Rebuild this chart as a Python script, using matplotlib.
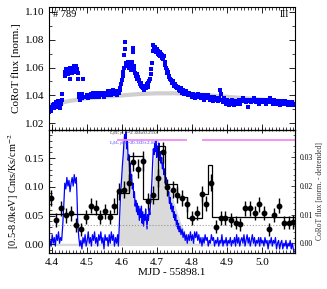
import numpy as np
import matplotlib
matplotlib.use("Agg")
import matplotlib.pyplot as plt
from matplotlib.ticker import MultipleLocator

plt.rcParams['font.family'] = ['Liberation Serif', 'DejaVu Serif']
plt.rcParams['mathtext.fontset'] = 'stix'

# CoRoT light curve (top panel), MJD - 55898.1 and normalised flux
corot = [
    (4.393, 1.028), (4.395, 1.030), (4.397, 1.031), (4.399, 1.029), (4.401, 1.032), (4.403, 1.033),
    (4.405, 1.031), (4.407, 1.034), (4.409, 1.033), (4.411, 1.035), (4.413, 1.032), (4.415, 1.034),
    (4.417, 1.036), (4.419, 1.033), (4.421, 1.035), (4.423, 1.031), (4.425, 1.034), (4.428, 1.037),
    (4.430, 1.041),
    (4.437, 1.054), (4.439, 1.057), (4.441, 1.059), (4.443, 1.056), (4.445, 1.058), (4.447, 1.055),
    (4.449, 1.057), (4.451, 1.060), (4.453, 1.052), (4.455, 1.058), (4.458, 1.056), (4.460, 1.059),
    (4.462, 1.061), (4.464, 1.060), (4.466, 1.058), (4.468, 1.061), (4.470, 1.057), (4.472, 1.059),
    (4.474, 1.052), (4.476, 1.056), (4.490, 1.052),
    (4.477, 1.039), (4.479, 1.041), (4.481, 1.037), (4.483, 1.040), (4.485, 1.038), (4.487, 1.041),
    (4.497, 1.039), (4.500, 1.040), (4.503, 1.038), (4.506, 1.039), (4.509, 1.040), (4.512, 1.041),
    (4.515, 1.039), (4.518, 1.042), (4.520, 1.040), (4.523, 1.041), (4.525, 1.039), (4.528, 1.042),
    (4.530, 1.040), (4.533, 1.041), (4.535, 1.039), (4.538, 1.040), (4.540, 1.042), (4.543, 1.040),
    (4.545, 1.041), (4.548, 1.039), (4.550, 1.040), (4.553, 1.042), (4.555, 1.041), (4.558, 1.040),
    (4.560, 1.043), (4.563, 1.041), (4.565, 1.042), (4.568, 1.040), (4.570, 1.043), (4.573, 1.042),
    (4.575, 1.044), (4.578, 1.041), (4.580, 1.043), (4.583, 1.042), (4.586, 1.040), (4.589, 1.043),
    (4.592, 1.042), (4.594, 1.044),
    (4.596, 1.045), (4.598, 1.048), (4.600, 1.051), (4.602, 1.054), (4.604, 1.057), (4.606, 1.060),
    (4.607, 1.069), (4.608, 1.073), (4.609, 1.078),
    (4.611, 1.062), (4.613, 1.063), (4.615, 1.061), (4.617, 1.064), (4.619, 1.062), (4.621, 1.060),
    (4.623, 1.063), (4.625, 1.058), (4.627, 1.061), (4.629, 1.064),
    (4.631, 1.071), (4.632, 1.073), (4.633, 1.074),
    (4.634, 1.061), (4.636, 1.058), (4.638, 1.056), (4.640, 1.054), (4.642, 1.055), (4.644, 1.052),
    (4.646, 1.053), (4.648, 1.050), (4.650, 1.051), (4.652, 1.048), (4.654, 1.049), (4.656, 1.047),
    (4.658, 1.046), (4.660, 1.045), (4.662, 1.047), (4.664, 1.044), (4.666, 1.046), (4.668, 1.045),
    (4.670, 1.047), (4.672, 1.048), (4.674, 1.046), (4.676, 1.049), (4.678, 1.050), (4.680, 1.052),
    (4.682, 1.055), (4.684, 1.059), (4.686, 1.063),
    (4.688, 1.072), (4.690, 1.076), (4.692, 1.074), (4.694, 1.072), (4.696, 1.075), (4.698, 1.071),
    (4.700, 1.073), (4.702, 1.070), (4.704, 1.072), (4.706, 1.069), (4.708, 1.071), (4.710, 1.068),
    (4.712, 1.070), (4.714, 1.067), (4.716, 1.069), (4.718, 1.066), (4.720, 1.068), (4.722, 1.064),
    (4.724, 1.062), (4.726, 1.060), (4.728, 1.058), (4.730, 1.056), (4.732, 1.057), (4.734, 1.054),
    (4.736, 1.053), (4.738, 1.052), (4.740, 1.051), (4.742, 1.050), (4.744, 1.049), (4.746, 1.050),
    (4.748, 1.048), (4.750, 1.047), (4.752, 1.048), (4.754, 1.046), (4.756, 1.047), (4.758, 1.045),
    (4.760, 1.046), (4.762, 1.044), (4.764, 1.045), (4.766, 1.043), (4.768, 1.045), (4.770, 1.044),
    (4.772, 1.042), (4.774, 1.043), (4.776, 1.044), (4.778, 1.041), (4.780, 1.042), (4.783, 1.043),
    (4.786, 1.041), (4.789, 1.040), (4.792, 1.042), (4.795, 1.040), (4.798, 1.041), (4.801, 1.039),
    (4.804, 1.041), (4.807, 1.040), (4.810, 1.038), (4.813, 1.040), (4.816, 1.039), (4.819, 1.041),
    (4.822, 1.039), (4.825, 1.038), (4.828, 1.040), (4.831, 1.039), (4.834, 1.037), (4.837, 1.040),
    (4.840, 1.039), (4.843, 1.038), (4.846, 1.040), (4.849, 1.039), (4.852, 1.037), (4.855, 1.039),
    (4.858, 1.038), (4.861, 1.036), (4.864, 1.039), (4.867, 1.038), (4.870, 1.037),
    (4.875, 1.036), (4.878, 1.038), (4.880, 1.044), (4.882, 1.041), (4.885, 1.037), (4.888, 1.035),
    (4.891, 1.038), (4.894, 1.036), (4.897, 1.034), (4.900, 1.037), (4.903, 1.035), (4.906, 1.033),
    (4.909, 1.036), (4.912, 1.034), (4.915, 1.037), (4.918, 1.035), (4.921, 1.033), (4.924, 1.036),
    (4.927, 1.034), (4.930, 1.036), (4.933, 1.035), (4.936, 1.037), (4.939, 1.034),
    (4.942, 1.036), (4.945, 1.038), (4.948, 1.036), (4.951, 1.037), (4.954, 1.035), (4.957, 1.037),
    (4.960, 1.032), (4.963, 1.036), (4.966, 1.037), (4.969, 1.035), (4.972, 1.037), (4.975, 1.036),
    (4.978, 1.038), (4.981, 1.036), (4.984, 1.035), (4.987, 1.037), (4.990, 1.036), (4.993, 1.034),
    (4.996, 1.037), (4.999, 1.036), (5.002, 1.035), (5.005, 1.037), (5.008, 1.036), (5.011, 1.034),
    (5.014, 1.037), (5.017, 1.035), (5.020, 1.036), (5.023, 1.038), (5.026, 1.035), (5.029, 1.036),
    (5.032, 1.034), (5.035, 1.037), (5.038, 1.035), (5.041, 1.036), (5.044, 1.034), (5.047, 1.036),
    (5.050, 1.035), (5.053, 1.033), (5.056, 1.036), (5.059, 1.035), (5.062, 1.034), (5.065, 1.036),
    (5.068, 1.034), (5.071, 1.035), (5.074, 1.033), (5.077, 1.035), (5.080, 1.034), (5.083, 1.033),
    (5.086, 1.035), (5.089, 1.034), (5.092, 1.033),
]

# slow trend (grey line)
trend_t = [4.392, 4.45, 4.50, 4.55, 4.60, 4.65, 4.70, 4.75, 4.80, 4.85, 4.90, 4.95, 5.00, 5.05, 5.095]
trend_f = [1.033, 1.036, 1.038, 1.039, 1.040, 1.041, 1.0415, 1.0415, 1.041, 1.040, 1.039, 1.038, 1.037, 1.036, 1.035]

# detrended CoRoT flux (blue line, right axis)
detr = [
    (4.392, -0.003), (4.395, 0.001), (4.398, -0.001), (4.401, 0.003), (4.404, 0.000), (4.407, 0.002),
    (4.410, -0.001), (4.413, 0.003), (4.416, 0.001), (4.419, 0.004), (4.422, 0.000), (4.425, 0.002),
    (4.428, 0.001), (4.431, 0.006), (4.434, 0.013), (4.437, 0.021), (4.440, 0.019), (4.443, 0.023),
    (4.446, 0.020), (4.449, 0.022), (4.452, 0.018), (4.455, 0.021), (4.458, 0.023), (4.461, 0.020),
    (4.464, 0.024), (4.467, 0.021), (4.470, 0.023), (4.472, 0.016), (4.474, 0.007), (4.477, 0.002),
    (4.480, -0.001), (4.483, 0.001), (4.486, -0.002), (4.489, 0.002), (4.492, 0.000), (4.495, 0.003),
    (4.498, -0.001), (4.501, 0.001), (4.504, 0.004), (4.507, 0.000), (4.510, 0.002), (4.513, -0.001),
    (4.516, 0.003), (4.519, 0.001), (4.522, 0.004), (4.525, 0.000), (4.528, 0.002), (4.531, -0.001),
    (4.534, 0.003), (4.537, 0.001), (4.540, 0.004), (4.543, 0.000), (4.546, 0.002), (4.549, -0.002),
    (4.552, 0.003), (4.555, 0.001), (4.558, 0.002), (4.561, -0.001), (4.564, 0.003), (4.567, 0.000),
    (4.570, 0.004), (4.573, 0.001), (4.576, 0.003), (4.579, -0.001), (4.582, 0.002), (4.585, 0.000),
    (4.588, 0.003), (4.590, -0.001), (4.592, 0.004), (4.594, 0.010), (4.596, 0.016), (4.598, 0.020),
    (4.600, 0.024), (4.602, 0.028), (4.604, 0.031), (4.606, 0.035), (4.608, 0.038), (4.610, 0.036),
    (4.612, 0.039), (4.614, 0.033), (4.616, 0.036), (4.618, 0.029), (4.620, 0.031), (4.622, 0.025),
    (4.624, 0.028), (4.626, 0.022), (4.628, 0.024), (4.630, 0.019), (4.632, 0.021), (4.634, 0.016),
    (4.636, 0.018), (4.638, 0.013), (4.640, 0.015), (4.642, 0.011), (4.644, 0.014), (4.646, 0.010),
    (4.648, 0.013), (4.650, 0.008), (4.652, 0.012), (4.654, 0.009), (4.656, 0.013), (4.658, 0.007),
    (4.660, 0.011), (4.662, 0.006), (4.664, 0.010), (4.666, 0.008), (4.668, 0.012), (4.670, 0.009),
    (4.672, 0.005), (4.674, 0.010), (4.676, 0.008), (4.678, 0.012), (4.680, 0.010), (4.682, 0.014),
    (4.684, 0.017), (4.686, 0.022), (4.688, 0.028), (4.690, 0.033), (4.692, 0.031), (4.694, 0.035),
    (4.696, 0.032), (4.698, 0.036), (4.700, 0.030), (4.702, 0.034), (4.704, 0.031), (4.706, 0.035),
    (4.708, 0.029), (4.710, 0.032), (4.712, 0.028), (4.714, 0.030), (4.716, 0.026), (4.718, 0.028),
    (4.720, 0.024), (4.722, 0.026), (4.724, 0.021), (4.726, 0.023), (4.728, 0.019), (4.730, 0.021),
    (4.732, 0.017), (4.734, 0.018), (4.736, 0.014), (4.738, 0.016), (4.740, 0.012), (4.742, 0.014),
    (4.744, 0.011), (4.746, 0.013), (4.748, 0.009), (4.750, 0.011), (4.752, 0.008), (4.754, 0.010),
    (4.756, 0.006), (4.758, 0.008), (4.760, 0.005), (4.762, 0.007), (4.764, 0.004), (4.766, 0.006),
    (4.769, 0.003), (4.772, 0.005), (4.775, 0.002), (4.778, 0.004), (4.781, 0.001), (4.784, 0.003),
    (4.787, 0.000), (4.790, 0.003), (4.793, 0.001), (4.796, 0.004), (4.799, 0.001), (4.802, 0.003),
    (4.805, 0.000), (4.808, 0.004), (4.811, 0.002), (4.814, 0.004), (4.817, 0.001), (4.820, 0.003),
    (4.823, 0.000), (4.826, 0.002), (4.829, -0.001), (4.832, 0.002), (4.835, 0.000), (4.838, 0.003),
    (4.841, 0.001), (4.844, 0.002), (4.847, -0.001), (4.850, 0.001), (4.853, 0.000), (4.856, 0.003),
    (4.859, 0.001), (4.862, 0.002), (4.865, -0.001), (4.868, 0.001), (4.871, 0.000), (4.874, 0.002),
    (4.877, -0.001), (4.880, 0.001), (4.883, 0.000), (4.886, 0.003), (4.889, -0.001), (4.892, 0.001),
    (4.895, 0.000), (4.898, 0.002), (4.901, -0.001), (4.904, 0.001), (4.907, 0.000), (4.910, 0.002),
    (4.913, -0.001), (4.916, 0.001), (4.919, 0.000), (4.922, 0.002), (4.925, -0.001), (4.928, 0.003),
    (4.931, 0.000), (4.934, 0.002), (4.937, -0.001), (4.940, 0.001), (4.943, 0.002), (4.946, 0.000),
    (4.949, 0.003), (4.952, -0.001), (4.955, 0.001), (4.958, 0.003), (4.961, 0.000), (4.964, 0.002),
    (4.967, -0.001), (4.970, 0.001), (4.973, 0.003), (4.976, 0.000), (4.979, 0.002), (4.982, -0.001),
    (4.985, 0.001), (4.988, 0.000), (4.991, 0.002), (4.994, -0.001), (4.997, 0.002), (5.000, 0.000),
    (5.003, 0.001), (5.006, -0.001), (5.009, 0.002), (5.012, 0.000), (5.015, 0.001), (5.018, -0.002),
    (5.021, 0.001), (5.024, 0.000), (5.027, 0.002), (5.030, -0.001), (5.033, 0.001), (5.036, 0.000),
    (5.039, 0.002), (5.042, -0.002), (5.045, 0.000), (5.048, 0.001), (5.051, -0.002), (5.054, 0.000),
    (5.057, 0.001), (5.060, -0.002), (5.063, 0.000), (5.066, -0.001), (5.069, 0.001), (5.072, -0.002),
    (5.075, 0.000), (5.078, -0.001), (5.081, 0.001), (5.084, -0.002), (5.087, 0.000), (5.090, -0.002),
    (5.093, -0.003),
]

# flare model (grey filled area, right axis)
model_t = [4.392, 4.590, 4.596, 4.600, 4.604, 4.608, 4.612, 4.616, 4.620, 4.628, 4.636, 4.644, 4.652,
           4.660, 4.668, 4.676, 4.684, 4.688, 4.692, 4.696, 4.702, 4.710, 4.720, 4.730, 4.740, 4.750,
           4.760, 4.770, 4.780, 4.790, 4.800, 4.810, 5.095]
model_f = [0.0, 0.0, 0.010, 0.024, 0.033, 0.036, 0.034, 0.028, 0.022, 0.018, 0.016, 0.014, 0.011,
           0.010, 0.009, 0.0095, 0.012, 0.020, 0.030, 0.034, 0.034, 0.030, 0.025, 0.021, 0.018, 0.014,
           0.010, 0.0065, 0.004, 0.002, 0.001, 0.0, 0.0]

# X-ray count rates (black points)
xr_t = [4.397, 4.412, 4.426, 4.441, 4.455, 4.469, 4.483, 4.498, 4.511, 4.525, 4.537, 4.552, 4.566,
        4.579, 4.593, 4.607, 4.621, 4.633, 4.647, 4.661, 4.676, 4.690, 4.704, 4.718, 4.730, 4.745,
        4.759, 4.773, 4.787, 4.800, 4.814, 4.828, 4.841, 4.855, 4.868, 4.882, 4.896, 4.911, 4.925,
        4.937, 4.952, 4.966, 4.980, 4.993, 5.007, 5.021, 5.036, 5.049, 5.063, 5.077, 5.090]
xr_rate = [0.080, 0.042, 0.063, 0.051, 0.054, 0.034, 0.026, 0.047, 0.067, 0.064, 0.047, 0.058, 0.048,
           0.067, 0.092, 0.095, 0.107, 0.144, 0.132, 0.145, 0.076, 0.086, 0.115, 0.160, 0.099, 0.095,
           0.086, 0.080, 0.070, 0.046, 0.054, 0.087, 0.071, 0.107, 0.031, 0.046, 0.046, 0.042, 0.038,
           0.035, 0.063, 0.063, 0.054, 0.070, 0.054, 0.026, 0.051, 0.067, 0.038, 0.038, 0.039]
xr_err = [0.014, 0.012, 0.013, 0.013, 0.013, 0.012, 0.011, 0.012, 0.013, 0.013, 0.012, 0.013, 0.012,
          0.013, 0.015, 0.015, 0.015, 0.017, 0.016, 0.017, 0.014, 0.015, 0.016, 0.018, 0.015, 0.015,
          0.014, 0.014, 0.013, 0.012, 0.012, 0.014, 0.013, 0.015, 0.011, 0.012, 0.012, 0.012, 0.012,
          0.011, 0.013, 0.013, 0.012, 0.013, 0.012, 0.011, 0.012, 0.013, 0.012, 0.012, 0.012]

# Bayesian blocks
bb_edges = [4.392, 4.585, 4.621, 4.661, 4.704, 4.724, 4.759, 4.786, 4.828, 4.847, 4.859, 5.095]
bb_level = [0.052, 0.090, 0.153, 0.079, 0.172, 0.105, 0.083, 0.046, 0.087, 0.138, 0.048]

quiescent = 0.034
gti_starts = [4.585, 4.828]
gti_ends = [4.786, 5.095]

xlim = (4.392, 5.095)

fig = plt.figure(figsize=(3.27, 2.89), dpi=100)
ax1 = fig.add_axes([0.150, 0.5502, 0.7523, 0.4256])
ax2 = fig.add_axes([0.150, 0.1246, 0.7523, 0.4256])

# ---- top panel
ct = [p[0] for p in corot]
cf = [p[1] for p in corot]
ax1.plot(trend_t, trend_f, color='#cfcfcf', lw=3, zorder=1)
ax1.plot(ct, cf, 's', color='#0000ff', ms=2.5, mew=0, zorder=2)
ax1.set_xlim(xlim)
ax1.set_ylim(1.0152, 1.1034)
ax1.set_ylabel('CoRoT flux [norm.]', fontsize=8, labelpad=3)
ax1.yaxis.set_major_locator(MultipleLocator(0.02))
ax1.yaxis.set_minor_locator(MultipleLocator(0.01))
ax1.xaxis.set_major_locator(MultipleLocator(0.1))
ax1.xaxis.set_minor_locator(MultipleLocator(0.01))
ax1.tick_params(which='both', direction='in', top=True, right=True, labelbottom=False, labelsize=8)
ax1.tick_params(which='major', length=4, width=0.6)
ax1.tick_params(which='minor', length=2, width=0.5)
ax1.text(0.015, 0.975, '# 789', transform=ax1.transAxes, ha='left', va='top', fontsize=7.5)
ax1.text(0.975, 0.975, 'III', transform=ax1.transAxes, ha='right', va='top', fontsize=7)

# ---- bottom panel
ax3 = ax2.twinx()
ax3.fill_between(model_t, -0.0008, model_f, color='#dadada', lw=0, zorder=1)
ax3.plot([p[0] for p in detr], [p[1] for p in detr], color='#0000ff', lw=0.9, zorder=2)
ax3.set_ylim(-0.0034, 0.0396)
ax3.yaxis.set_major_locator(MultipleLocator(0.01))
ax3.yaxis.set_minor_locator(MultipleLocator(0.002))
ax3.tick_params(which='both', direction='in', labelsize=5.5)
ax3.tick_params(which='major', length=3, width=0.5)
ax3.tick_params(which='minor', length=1.5, width=0.4)
ax3.set_ylabel('CoRoT flux [norm. - detrended]', fontsize=5.5, color='#333333', labelpad=2)

ax2.set_zorder(ax3.get_zorder() + 1)
ax2.patch.set_visible(False)
ax2.axhline(quiescent, color='#999999', ls=':', lw=0.8)
ax2.stairs(bb_level, bb_edges, color='black', lw=0.9, baseline=None)
ax2.errorbar(xr_t, xr_rate, yerr=xr_err, fmt='o', color='black', ms=3.2, elinewidth=1.0, capsize=0)
for a, b in zip(gti_starts, gti_ends):
    ax2.hlines(0.182, a, b, color='#f08cf0', lw=1.3)
ax2.text(4.563, 0.192, r'L$_{fl}$/L$_{pk,0}$=2.336±0.250', fontsize=3.8, color='#333333', va='center')
ax2.text(4.563, 0.176, r'L$_{fl}$/L$_{pk,0}$=20.300±2.890', fontsize=3.8, color='#4040ff', va='center')
ax2.set_xlim(xlim)
ax2.set_ylim(-0.015, 0.199)
ax2.yaxis.set_major_locator(MultipleLocator(0.05))
ax2.yaxis.set_minor_locator(MultipleLocator(0.01))
ax2.xaxis.set_major_locator(MultipleLocator(0.1))
ax2.xaxis.set_minor_locator(MultipleLocator(0.01))
ax2.tick_params(which='both', direction='in', top=True, labelsize=8)
ax2.tick_params(which='major', length=4, width=0.6)
ax2.tick_params(which='minor', length=2, width=0.5)
ax2.tick_params(axis='x', which='both', top=True)
for t in ax2.xaxis.get_major_ticks() + ax2.xaxis.get_minor_ticks():
    t.tick2line.set_marker('|')
ax2.set_xlabel('MJD - 55898.1', fontsize=8, labelpad=1)
ax2.set_ylabel(r'[0.5-8.0keV] Cnts/Ks/cm$^{-2}$', fontsize=7.5, labelpad=3)

fig.savefig('out.png', dpi=100)
